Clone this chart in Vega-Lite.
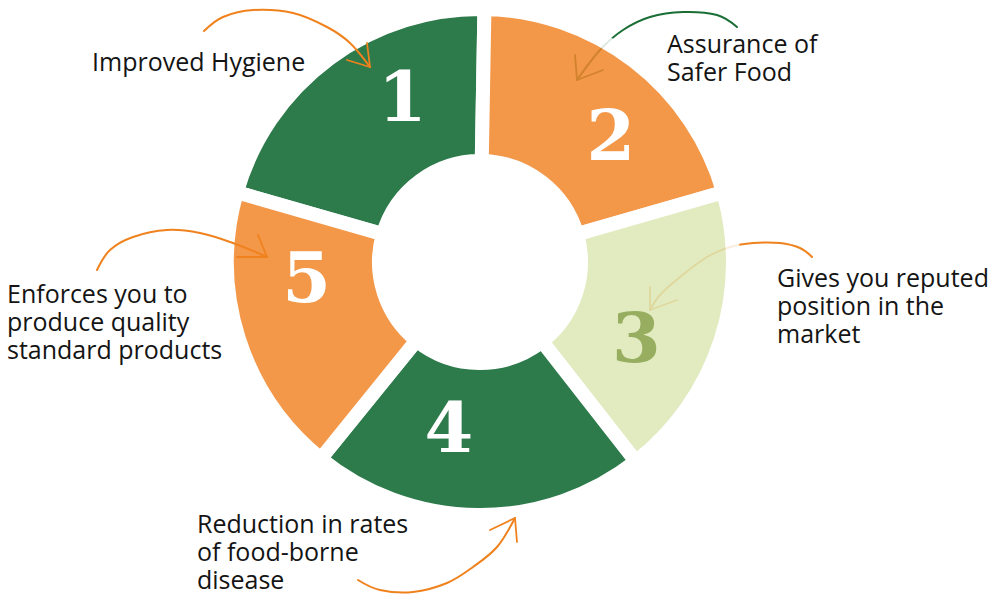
{
  "$schema": "https://vega.github.io/schema/vega-lite/v6.json",
  "width": 1006,
  "height": 595,
  "padding": 0,
  "autosize": {"type": "none"},
  "background": "white",
  "config": {"view": {"stroke": null}},
  "datasets": {
    "segments": [
      {"n": "1", "span": 75},
      {"n": "2", "span": 73},
      {"n": "3", "span": 68},
      {"n": "4", "span": 77},
      {"n": "5", "span": 67}
    ],
    "curves": [
      {"arrow": "a1", "i": 1, "x": 204, "y": 31},
      {"arrow": "a1", "i": 2, "x": 223, "y": 17},
      {"arrow": "a1", "i": 3, "x": 253, "y": 10},
      {"arrow": "a1", "i": 4, "x": 293, "y": 13},
      {"arrow": "a1", "i": 5, "x": 327, "y": 27},
      {"arrow": "a1", "i": 6, "x": 350, "y": 43},
      {"arrow": "a1", "i": 7, "x": 370, "y": 67},
      {"arrow": "a2", "i": 1, "x": 737, "y": 27},
      {"arrow": "a2", "i": 2, "x": 717, "y": 15},
      {"arrow": "a2", "i": 3, "x": 683, "y": 12},
      {"arrow": "a2", "i": 4, "x": 650, "y": 17},
      {"arrow": "a2", "i": 5, "x": 623, "y": 30},
      {"arrow": "a2", "i": 6, "x": 600, "y": 50},
      {"arrow": "a2", "i": 7, "x": 577, "y": 80},
      {"arrow": "a3", "i": 1, "x": 812, "y": 257},
      {"arrow": "a3", "i": 2, "x": 800, "y": 248},
      {"arrow": "a3", "i": 3, "x": 780, "y": 243},
      {"arrow": "a3", "i": 4, "x": 753, "y": 243},
      {"arrow": "a3", "i": 5, "x": 730, "y": 247},
      {"arrow": "a3", "i": 6, "x": 707, "y": 257},
      {"arrow": "a3", "i": 7, "x": 680, "y": 277},
      {"arrow": "a3", "i": 8, "x": 660, "y": 295},
      {"arrow": "a3", "i": 9, "x": 650, "y": 310},
      {"arrow": "a4", "i": 1, "x": 358, "y": 580},
      {"arrow": "a4", "i": 2, "x": 380, "y": 590},
      {"arrow": "a4", "i": 3, "x": 413, "y": 592},
      {"arrow": "a4", "i": 4, "x": 447, "y": 583},
      {"arrow": "a4", "i": 5, "x": 473, "y": 567},
      {"arrow": "a4", "i": 6, "x": 497, "y": 547},
      {"arrow": "a4", "i": 7, "x": 515, "y": 518},
      {"arrow": "a5", "i": 1, "x": 97, "y": 270},
      {"arrow": "a5", "i": 2, "x": 110, "y": 250},
      {"arrow": "a5", "i": 3, "x": 133, "y": 237},
      {"arrow": "a5", "i": 4, "x": 167, "y": 230},
      {"arrow": "a5", "i": 5, "x": 200, "y": 233},
      {"arrow": "a5", "i": 6, "x": 233, "y": 243},
      {"arrow": "a5", "i": 7, "x": 267, "y": 257}
    ],
    "heads": [
      {"arrow": "a1", "i": 1, "x": 367, "y": 43},
      {"arrow": "a1", "i": 2, "x": 370, "y": 67},
      {"arrow": "a1", "i": 3, "x": 347, "y": 60},
      {"arrow": "a2", "i": 1, "x": 575, "y": 55},
      {"arrow": "a2", "i": 2, "x": 577, "y": 80},
      {"arrow": "a2", "i": 3, "x": 603, "y": 70},
      {"arrow": "a3", "i": 1, "x": 650, "y": 287},
      {"arrow": "a3", "i": 2, "x": 650, "y": 310},
      {"arrow": "a3", "i": 3, "x": 677, "y": 300},
      {"arrow": "a4", "i": 1, "x": 517, "y": 542},
      {"arrow": "a4", "i": 2, "x": 515, "y": 518},
      {"arrow": "a4", "i": 3, "x": 490, "y": 530},
      {"arrow": "a5", "i": 1, "x": 258, "y": 235},
      {"arrow": "a5", "i": 2, "x": 267, "y": 257},
      {"arrow": "a5", "i": 3, "x": 237, "y": 257}
    ],
    "labels": [
      {"x": 92, "y": 71, "text": ["Improved Hygiene"]},
      {"x": 667, "y": 53, "text": ["Assurance of", "Safer Food"]},
      {"x": 777, "y": 287, "text": ["Gives you reputed", "position in the", "market"]},
      {"x": 7, "y": 303, "text": ["Enforces you to", "produce quality", "standard products"]},
      {"x": 197, "y": 533, "text": ["Reduction in rates", "of food-borne", "disease"]}
    ]
  },
  "resolve": {"scale": {"color": "independent", "theta": "independent"}},
  "layer": [
    {
      "data": {"name": "curves"},
      "transform": [{"filter": "datum.arrow == 'a2' || datum.arrow == 'a3'"}],
      "mark": {"type": "line", "interpolate": "cardinal", "strokeWidth": 2, "strokeCap": "round"},
      "encoding": {
        "x": {"field": "x", "type": "quantitative", "scale": {"domain": [0, 1006], "nice": false, "zero": false}, "axis": null},
        "y": {"field": "y", "type": "quantitative", "scale": {"domain": [0, 595], "nice": false, "zero": false, "reverse": true}, "axis": null},
        "detail": {"field": "arrow"},
        "order": {"field": "i"},
        "color": {"field": "arrow", "type": "nominal", "scale": {"domain": ["a1", "a2", "a3", "a4", "a5"], "range": ["#F0821E", "#1A6E35", "#F0821E", "#F0821E", "#F0821E"]}, "legend": null}
      }
    },
    {
      "data": {"name": "heads"},
      "transform": [{"filter": "datum.arrow == 'a2' || datum.arrow == 'a3'"}],
      "mark": {"type": "line", "strokeWidth": 1.8, "strokeCap": "round", "strokeJoin": "round"},
      "encoding": {
        "x": {"field": "x", "type": "quantitative"},
        "y": {"field": "y", "type": "quantitative"},
        "detail": {"field": "arrow"},
        "order": {"field": "i"},
        "color": {"field": "arrow", "type": "nominal", "scale": {"domain": ["a1", "a2", "a3", "a4", "a5"], "range": ["#F0821E", "#1A6E35", "#F0821E", "#F0821E", "#F0821E"]}, "legend": null}
      }
    },
    {
      "data": {"name": "segments"},
      "mark": {"type": "arc", "radius": 253, "radius2": 101, "stroke": "white", "strokeWidth": 14, "opacity": 0.85},
      "encoding": {
        "x": {"datum": 480, "type": "quantitative"},
        "y": {"datum": 262, "type": "quantitative"},
        "theta": {"field": "span", "type": "quantitative", "stack": true, "scale": {"range": [-1.29154, 4.99165]}},
        "order": {"field": "n"},
        "color": {"field": "n", "type": "nominal", "scale": {"domain": ["1", "2", "3", "4", "5"], "range": ["#09632C", "#F1862A", "#DDE8B5", "#09632C", "#F1862A"]}, "legend": null}
      }
    },
    {
      "data": {"name": "curves"},
      "transform": [{"filter": "datum.arrow != 'a2' && datum.arrow != 'a3'"}],
      "mark": {"type": "line", "interpolate": "cardinal", "strokeWidth": 2, "strokeCap": "round"},
      "encoding": {
        "x": {"field": "x", "type": "quantitative"},
        "y": {"field": "y", "type": "quantitative"},
        "detail": {"field": "arrow"},
        "order": {"field": "i"},
        "color": {"value": "#F0821E"}
      }
    },
    {
      "data": {"name": "heads"},
      "transform": [{"filter": "datum.arrow != 'a2' && datum.arrow != 'a3'"}],
      "mark": {"type": "line", "strokeWidth": 1.8, "strokeCap": "round", "strokeJoin": "round"},
      "encoding": {
        "x": {"field": "x", "type": "quantitative"},
        "y": {"field": "y", "type": "quantitative"},
        "detail": {"field": "arrow"},
        "order": {"field": "i"},
        "color": {"value": "#F0821E"}
      }
    },
    {
      "data": {"name": "segments"},
      "mark": {"type": "text", "radius": 176, "font": "DejaVu Serif", "fontWeight": "bold", "fontSize": 70, "align": "center", "baseline": "middle"},
      "encoding": {
        "x": {"datum": 481, "type": "quantitative"},
        "y": {"datum": 258, "type": "quantitative"},
        "theta": {"field": "span", "type": "quantitative", "stack": true, "scale": {"range": [-1.11701, 5.16618]}},
        "order": {"field": "n"},
        "text": {"field": "n"},
        "color": {"field": "n", "type": "nominal", "scale": {"domain": ["1", "2", "3", "4", "5"], "range": ["#FFFFFF", "#FFFFFF", "#97AD5F", "#FFFFFF", "#FFFFFF"]}, "legend": null}
      }
    },
    {
      "data": {"name": "labels"},
      "mark": {"type": "text", "font": "Open Sans", "fontSize": 25, "lineHeight": 28, "align": "left", "baseline": "alphabetic", "color": "#141414"},
      "encoding": {
        "x": {"field": "x", "type": "quantitative"},
        "y": {"field": "y", "type": "quantitative"},
        "text": {"field": "text"}
      }
    }
  ]
}
